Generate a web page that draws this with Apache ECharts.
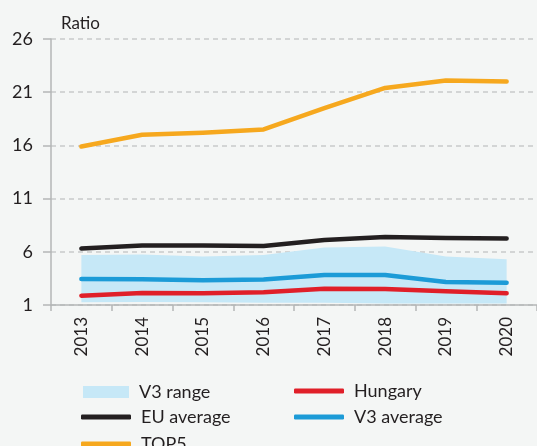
<!DOCTYPE html>
<html>
<head>
<meta charset="utf-8">
<script src="https://cdn.jsdelivr.net/npm/echarts@6/dist/echarts.min.js"></script>
<style>
  html, body { margin: 0; padding: 0; background: #f4f6f5; }
  #chart { width: 537px; height: 446px; }
</style>
</head>
<body>
<div id="chart"></div>
<script>
// Years on the category axis
const years = ['2013', '2014', '2015', '2016', '2017', '2018', '2019', '2020'];

// Ratio series
const top5 = [15.9, 17.0, 17.2, 17.5, 19.5, 21.4, 22.1, 22.0];
const euAverage = [6.3, 6.6, 6.6, 6.55, 7.1, 7.4, 7.3, 7.25];
const v3Average = [3.45, 3.43, 3.32, 3.4, 3.82, 3.82, 3.16, 3.1];
const hungary = [1.87, 2.13, 2.1, 2.19, 2.53, 2.5, 2.29, 2.1];

// V3 range: lower and upper bounds
const v3Min = [1.25, 1.28, 1.27, 1.22, 1.2, 1.15, 1.15, 1.15];
const v3Max = [5.7, 5.75, 5.55, 5.7, 6.4, 6.5, 5.55, 5.3];

// Y-axis ticks
const yTicks = [1, 6, 11, 16, 21, 26];

const rangeSpan = v3Max.map((v, i) => +(v - v3Min[i]).toFixed(3));

const FONT = 'Lato';
const TEXT = '#231f20';

const lineSeries = (name, data, color) => ({
  name: name,
  type: 'line',
  data: data,
  symbol: 'none',
  color: color,
  lineStyle: { width: 4.5, color: color, cap: 'round', join: 'round' },
  itemStyle: { color: color },
  z: 3
});

const legendText = { color: TEXT, fontFamily: FONT, fontSize: 18, padding: [0, 0, 0, 5] };

// One legend block per entry, laid out as two columns
const legendItem = (name, left, top, w, h, icon) => ({
  left: left, top: top,
  itemWidth: w, itemHeight: h,
  data: [{ name: name, icon: icon }],
  textStyle: legendText
});

const chart = echarts.init(document.getElementById('chart'), null, { renderer: 'canvas' });
chart.setOption({
  backgroundColor: '#f4f6f5',
  animation: false,
  title: {
    text: 'Ratio',
    left: 56,
    top: 10,
    textStyle: { color: TEXT, fontFamily: FONT, fontSize: 17, fontWeight: 'normal' }
  },
  grid: { left: 51, right: 0, top: 39, bottom: 141, containLabel: false },
  xAxis: {
    type: 'category',
    data: years,
    boundaryGap: true,
    axisLine: { lineStyle: { color: '#b4b6b6', width: 1.5 } },
    axisTick: { show: true, length: 6, lineStyle: { color: '#b4b6b6', width: 1.5 } },
    axisLabel: { rotate: 90, margin: 12, color: TEXT, fontFamily: FONT, fontSize: 17 }
  },
  yAxis: {
    type: 'value',
    min: 1,
    max: 26,
    axisLine: { show: true, lineStyle: { color: '#b4b6b6', width: 1.5 } },
    axisTick: { show: true, length: 8, customValues: yTicks, lineStyle: { color: '#b4b6b6', width: 1.5 } },
    axisLabel: { customValues: yTicks, margin: 18, color: TEXT, fontFamily: FONT, fontSize: 18 },
    splitLine: { show: true, lineStyle: { color: '#c8caca', type: [5, 4], width: 1.5 } }
  },
  legend: [
    legendItem('V3 range', 78, 378, 46, 12, 'rect'),
    legendItem('EU average', 76, 403, 50, 5, 'roundRect'),
    legendItem('TOP5', 76, 430, 50, 5, 'roundRect'),
    legendItem('Hungary', 289, 377, 50, 5, 'roundRect'),
    legendItem('V3 average', 289, 403, 50, 5, 'roundRect')
  ],
  series: [
    {
      name: 'V3 min',
      type: 'line',
      stack: 'v3range',
      data: v3Min,
      symbol: 'none',
      lineStyle: { width: 0, opacity: 0 },
      areaStyle: { opacity: 0 },
      silent: true,
      z: 1
    },
    {
      name: 'V3 range',
      type: 'line',
      stack: 'v3range',
      data: rangeSpan,
      symbol: 'none',
      color: '#c6e8f7',
      itemStyle: { color: '#c6e8f7' },
      lineStyle: { width: 0, opacity: 0 },
      areaStyle: { color: '#c6e8f7', opacity: 1 },
      z: 1
    },
    lineSeries('Hungary', hungary, '#e01f29'),
    lineSeries('V3 average', v3Average, '#1c9bd7'),
    lineSeries('EU average', euAverage, '#231f20'),
    lineSeries('TOP5', top5, '#f6a81e')
  ]
});
</script>
</body>
</html>
